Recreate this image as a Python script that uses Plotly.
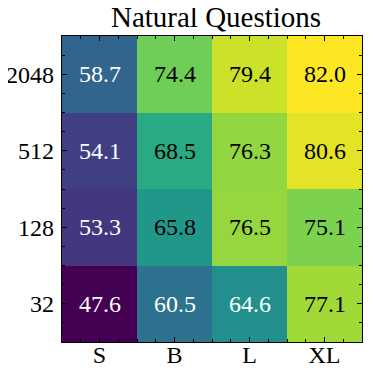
import plotly.graph_objects as go

# model sizes (x) and number of passages (y, bottom to top)
sizes = ['S', 'B', 'L', 'XL']
passages = ['32', '128', '512', '2048']

row_32 = [47.6, 60.5, 64.6, 77.1]
row_128 = [53.3, 65.8, 76.5, 75.1]
row_512 = [54.1, 68.5, 76.3, 80.6]
row_2048 = [58.7, 74.4, 79.4, 82.0]

z = [row_32, row_128, row_512, row_2048]
xs = list(range(len(sizes)))
ys = list(range(len(passages)))

font = 'Liberation Serif'

fig = go.Figure(go.Heatmap(z=z, x=xs, y=ys, colorscale='Viridis',
                           showscale=False, xgap=0, ygap=0))

# cell labels: white on dark cells, black on light ones
zmin = min(min(r) for r in z)
zmax = max(max(r) for r in z)
for j, row in enumerate(z):
    for i, v in enumerate(row):
        frac = (v - zmin) / (zmax - zmin)
        fig.add_annotation(x=i, y=j, text=f'{v:.1f}', showarrow=False,
                           font=dict(family=font, size=24,
                                     color='white' if frac < 0.5 else 'black'))

axis_common = dict(
    showline=True, linecolor='black', linewidth=1.3, mirror='allticks',
    ticks='inside', ticklen=5, tickwidth=1, tickcolor='black',
    showgrid=False, zeroline=False, automargin=False,
    tickfont=dict(family=font, size=24, color='black'),
    minor=dict(ticks='inside', ticklen=3, tickwidth=0.8, tickcolor='black',
               tick0=-0.5, dtick=0.25, showgrid=False),
    layer='above traces',
)

# page body adds an 8px offset, so the figure is drawn 8px smaller
fig.update_layout(
    width=365, height=369,
    margin=dict(l=54, r=11, t=28, b=35),
    paper_bgcolor='white', plot_bgcolor='white',
    title=dict(text='Natural Questions', x=0.57, xanchor='center',
               y=0.975, yanchor='middle',
               font=dict(family=font, size=29, color='black')),
    xaxis=dict(tickmode='array', tickvals=xs, ticktext=sizes,
               range=[-0.5, 3.5], ticklabelstandoff=-9, **axis_common),
    yaxis=dict(tickmode='array', tickvals=ys, ticktext=passages,
               range=[-0.5, 3.5], ticklabelstandoff=2, **axis_common),
)

fig.write_html('out.html')
